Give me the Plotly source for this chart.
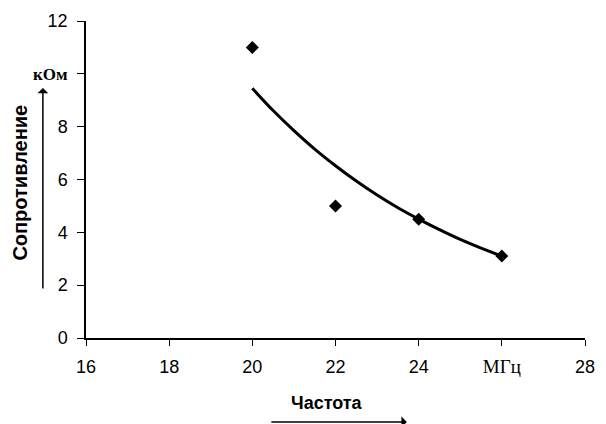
import plotly.graph_objects as go

# Measured data points (frequency, MHz ; resistance, kOhm)
freq = [20, 22, 24, 26]
resistance = [11.0, 5.0, 4.5, 3.1]

# Trend line
trend_freq = [20, 20.5, 21, 21.5, 22, 22.5, 23, 23.5, 24, 24.5, 25, 25.5, 26]
trend_res = [9.45, 8.61, 7.85, 7.15, 6.52, 5.94, 5.41, 4.93, 4.50, 4.10, 3.73, 3.40, 3.10]

x_ticks = [16, 18, 20, 22, 24, 26, 28]
x_ticktext = ["16", "18", "20", "22", "24",
              "<span style='font-family:Liberation Serif;font-size:19px'>МГц</span>", "28"]
y_ticks = [0, 2, 4, 6, 8, 10, 12]
y_ticktext = ["0", "2", "4", "6", "8",
              "<span style='font-family:Liberation Serif;font-size:17px'><b>кОм</b></span>", "12"]

fig = go.Figure()
fig.add_trace(go.Scatter(x=trend_freq, y=trend_res, mode="lines",
                         line=dict(color="black", width=3, shape="spline"),
                         showlegend=False, hoverinfo="skip"))
fig.add_trace(go.Scatter(x=freq, y=resistance, mode="markers",
                         marker=dict(symbol="diamond", size=10, color="black"),
                         showlegend=False))

axis_font = dict(family="Liberation Sans, Arial", size=18, color="black")
fig.update_xaxes(range=[16, 28], tickvals=x_ticks, ticktext=x_ticktext,
                 showline=True, linecolor="black", linewidth=1.5,
                 ticks="outside", ticklen=6, tickcolor="black",
                 showgrid=False, zeroline=False, tickfont=axis_font,
                 ticklabelstandoff=6)
fig.update_yaxes(range=[0, 12], tickvals=y_ticks, ticktext=y_ticktext,
                 showline=True, linecolor="black", linewidth=1.5,
                 ticks="outside", ticklen=7, tickcolor="black",
                 showgrid=False, zeroline=False, tickfont=axis_font,
                 ticklabelstandoff=6)

title_font = dict(family="Liberation Sans, Arial", size=20, color="black")
annotations = [
    dict(text="<b>Сопротивление</b>", xref="paper", yref="paper",
         x=-0.133, y=0.489, textangle=-90, showarrow=False, font=title_font,
         xanchor="center", yanchor="middle"),
    dict(text="<b>Частота</b>", xref="paper", yref="paper",
         x=0.483, y=-0.205, showarrow=False,
         font=dict(family="Liberation Sans, Arial", size=18, color="black"),
         xanchor="center", yanchor="middle"),
    # vertical arrow (y axis direction)
    dict(text="", xref="paper", yref="paper", x=-0.0864, y=0.789,
         ax=0, ay=202, showarrow=True, arrowhead=1, arrowsize=1.2,
         arrowwidth=1.5, arrowcolor="black"),
    # horizontal arrow (x axis direction)
    dict(text="", xref="paper", yref="paper", x=0.643, y=-0.265,
         ax=-137, ay=0, showarrow=True, arrowhead=1, arrowsize=1.2,
         arrowwidth=1.5, arrowcolor="black"),
]

fig.update_layout(width=606, height=424,
                  margin=dict(l=86, r=11, t=21, b=86),
                  paper_bgcolor="white", plot_bgcolor="white",
                  annotations=annotations)

fig.write_html("out.html", config={"displayModeBar": False},
               post_script="document.body.style.margin='0';document.body.style.overflow='hidden';")
